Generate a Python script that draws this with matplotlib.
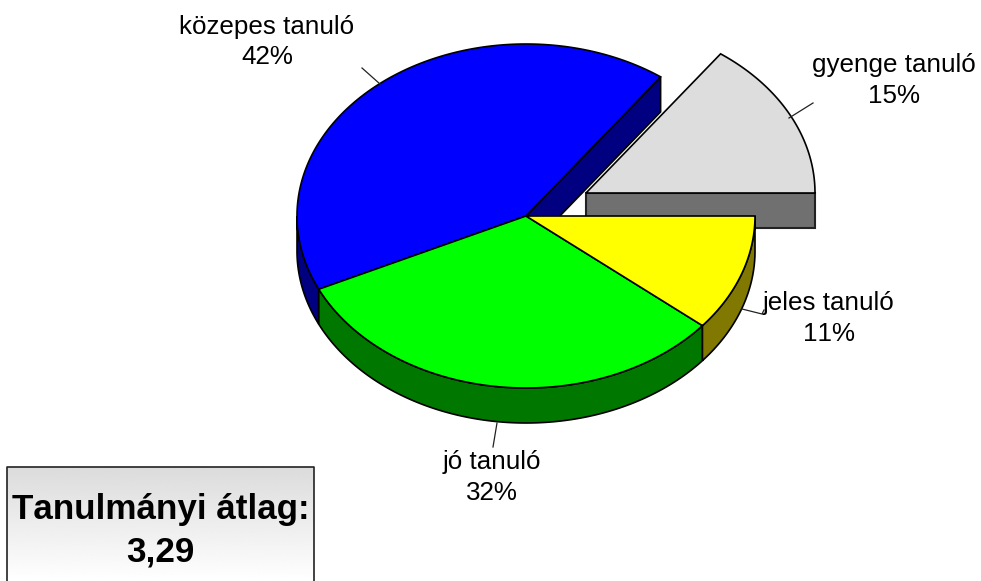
import numpy as np
import matplotlib
matplotlib.use('Agg')
import matplotlib.pyplot as plt
from matplotlib.patches import Polygon, Rectangle

categories = ['gyenge tanuló', 'közepes tanuló', 'jó tanuló', 'jeles tanuló']
percents = [15, 42, 32, 11]
top_colors = ['#dddddd', '#0000ff', '#00ff00', '#ffff00']
side_colors = ['#707070', '#000080', '#007800', '#807800']

plt.rcParams['font.family'] = ['Liberation Sans', 'DejaVu Sans']
plt.rcParams['text.kerning_factor'] = 6

# pie geometry in pixels
CX, CY = 526, 216
RX, RY = 229, 172
DEPTH = 35
EXPLODE = {0: (60, -23)}  # only the first slice is pulled out

W, H = 981, 581
fig = plt.figure(figsize=(W / 100, H / 100), dpi=100)
ax = fig.add_axes([0, 0, 1, 1])
ax.set_xlim(0, W)
ax.set_ylim(H, 0)
ax.axis('off')


def rim(a0, a1, cx, cy):
    """Points along the top rim between two angles in degrees."""
    t = np.radians(np.linspace(a0, a1, 200))
    return np.column_stack([cx + RX * np.cos(t), cy - RY * np.sin(t)])


def draw_side(a0, a1, cx, cy, color, z):
    """Outer wall of a slice, only the part facing the viewer."""
    pts = rim(a0, a1, cx, cy)
    low = pts[::-1] + [0, DEPTH]
    ax.add_patch(Polygon(np.vstack([pts, low]), closed=True, facecolor=color,
                         edgecolor='black', linewidth=1.2, zorder=z))


edges = np.concatenate([[0], np.cumsum(percents)]) * 3.6

# exploded slice goes first, everything else sits over it
dx, dy = EXPLODE[0]
gx, gy = CX + dx, CY + dy
ax.add_patch(Rectangle((gx, gy), RX, DEPTH, facecolor=side_colors[0],
                       edgecolor='#222222', linewidth=1.5, zorder=1))
ax.add_patch(Polygon(np.vstack([[gx, gy], rim(edges[0], edges[1], gx, gy)]), closed=True,
                     facecolor=top_colors[0], edgecolor='black', linewidth=1.2, zorder=2))

# cut face of the blue slice
p = rim(edges[1], edges[1], CX, CY)[0]
ax.add_patch(Polygon([[CX, CY], p, p + [0, DEPTH], [CX, CY + DEPTH]], closed=True,
                     facecolor=side_colors[1], edgecolor='black', linewidth=1.2, zorder=3))

draw_side(180, edges[2], CX, CY, side_colors[1], 4)
draw_side(edges[2], edges[3], CX, CY, side_colors[2], 4)
draw_side(edges[3], edges[4], CX, CY, side_colors[3], 4)

for i in range(1, 4):
    pts = np.vstack([[CX, CY], rim(edges[i], edges[i + 1], CX, CY)])
    ax.add_patch(Polygon(pts, closed=True, facecolor=top_colors[i],
                         edgecolor='black', linewidth=1.2, zorder=5))

# leader lines
leaders = [
    [(813, 103), (789, 118)],
    [(362, 68), (380, 84)],
    [(497, 423), (493, 447)],
    [(742, 309), (762, 314), (764, 310)],
]
for line in leaders:
    xs, ys = zip(*line)
    ax.plot(xs, ys, color='#222222', linewidth=0.9, zorder=6)

# labels
label_pos = [(893.5, 80.5), (267, 42), (492, 477.5), (829, 318.5)]
for name, pct, (x, y) in zip(categories, percents, label_pos):
    ax.text(x, y, f'{name}\n{pct}%', ha='center', va='center', fontsize=18.7,
            color='black', linespacing=1.36, zorder=7)

# average box with the grey to white fade
grad = np.linspace(0.86, 1.0, 256).reshape(-1, 1)
ax.imshow(grad, cmap='gray', vmin=0, vmax=1, extent=(7, 314, 581, 467), aspect='auto', zorder=1)
ax.set_xlim(0, W)
ax.set_ylim(H, 0)
ax.plot([7, 7, 314, 314], [581, 467, 467, 581], color='#222222', linewidth=1.2, zorder=2)
ax.text(160.5, 530.5, 'Tanulmányi átlag:\n3,29', ha='center', va='center', fontsize=25.2,
        fontweight='bold', color='black', linespacing=1.35, zorder=3)

fig.savefig('out.png', dpi=100)
